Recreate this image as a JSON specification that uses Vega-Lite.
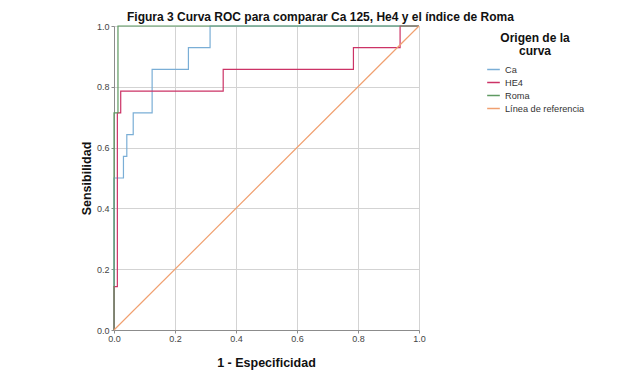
{
  "$schema": "https://vega.github.io/schema/vega-lite/v6.json",
  "width": 305,
  "height": 304,
  "autosize": {"type": "none"},
  "padding": {"left": 114, "top": 26, "right": 223, "bottom": 49},
  "background": "white",
  "config": {
    "font": "Liberation Sans",
    "view": {"stroke": null},
    "axis": {
      "labelFont": "Liberation Sans",
      "labelFontSize": 9,
      "labelColor": "#444444",
      "labelFlush": false,
      "titleFont": "Liberation Sans",
      "titleFontSize": 12.5,
      "titleFontWeight": "bold",
      "titleColor": "#111111",
      "gridColor": "#d3d3d3",
      "gridWidth": 1,
      "domainColor": "#8c8c8c",
      "tickColor": "#8c8c8c",
      "tickSize": 3
    }
  },
  "title": {
    "text": "Figura 3 Curva ROC para comparar Ca 125, He4 y el índice de Roma",
    "font": "Liberation Sans",
    "fontSize": 12,
    "fontWeight": "bold",
    "color": "#111111",
    "anchor": "start",
    "frame": "group",
    "dx": 13,
    "offset": -2
  },
  "data": {
    "values": [
      {"curva": "Ca", "i": 1, "x": 0, "y": 0},
      {"curva": "Ca", "i": 2, "x": 0, "y": 0.5},
      {"curva": "Ca", "i": 3, "x": 0.031, "y": 0.5},
      {"curva": "Ca", "i": 4, "x": 0.031, "y": 0.571},
      {"curva": "Ca", "i": 5, "x": 0.042, "y": 0.571},
      {"curva": "Ca", "i": 6, "x": 0.042, "y": 0.643},
      {"curva": "Ca", "i": 7, "x": 0.063, "y": 0.643},
      {"curva": "Ca", "i": 8, "x": 0.063, "y": 0.714},
      {"curva": "Ca", "i": 9, "x": 0.125, "y": 0.714},
      {"curva": "Ca", "i": 10, "x": 0.125, "y": 0.857},
      {"curva": "Ca", "i": 11, "x": 0.244, "y": 0.857},
      {"curva": "Ca", "i": 12, "x": 0.244, "y": 0.929},
      {"curva": "Ca", "i": 13, "x": 0.315, "y": 0.929},
      {"curva": "Ca", "i": 14, "x": 0.315, "y": 1},
      {"curva": "Ca", "i": 15, "x": 1, "y": 1},
      {"curva": "HE4", "i": 1, "x": 0, "y": 0},
      {"curva": "HE4", "i": 2, "x": 0, "y": 0.143},
      {"curva": "HE4", "i": 3, "x": 0.011, "y": 0.143},
      {"curva": "HE4", "i": 4, "x": 0.011, "y": 0.714},
      {"curva": "HE4", "i": 5, "x": 0.022, "y": 0.714},
      {"curva": "HE4", "i": 6, "x": 0.022, "y": 0.786},
      {"curva": "HE4", "i": 7, "x": 0.358, "y": 0.786},
      {"curva": "HE4", "i": 8, "x": 0.358, "y": 0.857},
      {"curva": "HE4", "i": 9, "x": 0.785, "y": 0.857},
      {"curva": "HE4", "i": 10, "x": 0.785, "y": 0.929},
      {"curva": "HE4", "i": 11, "x": 0.938, "y": 0.929},
      {"curva": "HE4", "i": 12, "x": 0.938, "y": 1},
      {"curva": "HE4", "i": 13, "x": 1, "y": 1},
      {"curva": "Roma", "i": 1, "x": 0, "y": 0},
      {"curva": "Roma", "i": 2, "x": 0, "y": 0.714},
      {"curva": "Roma", "i": 3, "x": 0.013, "y": 0.714},
      {"curva": "Roma", "i": 4, "x": 0.013, "y": 1},
      {"curva": "Roma", "i": 5, "x": 1, "y": 1},
      {"curva": "Línea de referencia", "i": 1, "x": 0, "y": 0},
      {"curva": "Línea de referencia", "i": 2, "x": 1, "y": 1}
    ]
  },
  "mark": {"type": "line", "strokeWidth": 1.2, "clip": false},
  "encoding": {
    "x": {
      "field": "x",
      "type": "quantitative",
      "scale": {"domain": [0, 1], "nice": false, "zero": false},
      "axis": {
        "title": "1 - Especificidad",
        "values": [0, 0.2, 0.4, 0.6, 0.8, 1],
        "format": ".1f",
        "labelPadding": 1,
        "titleX": 152,
        "titleY": 32,
        "titleBaseline": "middle",
        "titleAnchor": "middle"
      }
    },
    "y": {
      "field": "y",
      "type": "quantitative",
      "scale": {"domain": [0, 1], "nice": false, "zero": false},
      "axis": {
        "title": "Sensibilidad",
        "values": [0, 0.2, 0.4, 0.6, 0.8, 1],
        "format": ".1f",
        "labelPadding": 2,
        "titleX": -28,
        "titleY": 152,
        "titleBaseline": "middle",
        "titleAnchor": "middle"
      }
    },
    "order": {"field": "i", "type": "quantitative"},
    "color": {
      "field": "curva",
      "type": "nominal",
      "scale": {
        "domain": ["Ca", "HE4", "Roma", "Línea de referencia"],
        "range": ["#7aaed6", "#cc3366", "#5f9a62", "#f0a070"]
      },
      "legend": {
        "title": ["Origen de la", "curva"],
        "orient": "none",
        "legendX": 372,
        "legendY": 7,
        "padding": 0,
        "titleFont": "Liberation Sans",
        "titleFontSize": 12,
        "titleFontWeight": "bold",
        "titleColor": "#111111",
        "titleAlign": "center",
        "titleAnchor": "middle",
        "titleLineHeight": 13,
        "titlePadding": 4,
        "labelFont": "Liberation Sans",
        "labelFontSize": 9.2,
        "labelColor": "#333333",
        "symbolType": "stroke",
        "symbolSize": 160,
        "symbolStrokeWidth": 1.5,
        "rowPadding": 0,
        "labelOffset": 4
      }
    }
  }
}
